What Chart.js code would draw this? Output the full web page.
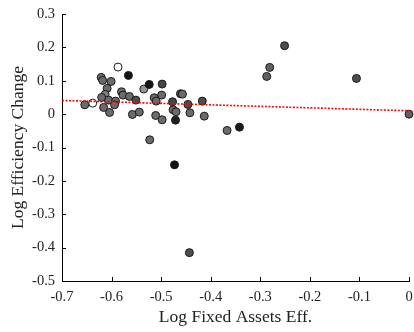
<!DOCTYPE html>
<html>
<head>
<meta charset="utf-8">
<script src="https://cdn.jsdelivr.net/npm/chart.js@4/dist/chart.umd.min.js"></script>
<style>
html,body{margin:0;padding:0;background:#fff;}
#wrap{width:414px;height:332px;}
</style>
</head>
<body>
<div id="wrap"><canvas id="c" width="414" height="332"></canvas></div>
<script>
// Data
const fixedAssetsEff = [
  -0.654,-0.638,-0.587,-0.566,-0.621,-0.618,-0.601,-0.609,-0.613,-0.620,
  -0.606,-0.592,-0.594,-0.616,-0.604,-0.580,-0.577,-0.564,-0.551,-0.558,
  -0.544,-0.535,-0.524,-0.498,-0.499,-0.514,-0.510,-0.511,-0.498,-0.523,
  -0.477,-0.476,-0.470,-0.471,-0.461,-0.457,-0.446,-0.442,-0.417,-0.413,
  -0.367,-0.342,-0.473,-0.443,-0.251,-0.281,-0.287,-0.106,0.000
];
const efficiencyChange = [
  0.028,0.033,0.141,0.116,0.110,0.101,0.098,0.077,0.059,0.050,
  0.042,0.039,0.028,0.020,0.005,0.067,0.057,0.053,0.042,-0.001,
  0.006,0.075,0.089,0.090,0.057,0.049,0.039,-0.004,-0.017,-0.077,
  0.037,0.013,0.007,-0.018,0.061,0.060,0.029,0.004,0.039,-0.006,
  -0.049,-0.039,-0.152,-0.415,0.205,0.140,0.113,0.107,0.000
];
// grey level of each marker (0 = black, 1 = white)
const markerLevel = [
  0.42,1.00,1.00,0.08,0.42,0.42,0.42,0.42,0.50,0.42,
  0.42,0.42,0.42,0.42,0.42,0.42,0.42,0.42,0.30,0.42,
  0.42,0.58,0.08,0.28,0.42,0.42,0.42,0.42,0.42,0.42,
  0.28,0.42,0.42,0.12,0.28,0.42,0.30,0.42,0.30,0.42,
  0.42,0.10,0.08,0.30,0.30,0.38,0.38,0.30,0.38
];
const trendX = [-0.7, 0];
const trendY = [0.041, 0.010];
const xTicks = [-0.7,-0.6,-0.5,-0.4,-0.3,-0.2,-0.1,0];
const yTicks = [0.3,0.2,0.1,0,-0.1,-0.2,-0.3,-0.4,-0.5];

const fmt = v => { const r = Math.round(v*10)/10; return r === 0 ? '0' : String(r); };
const grey = l => { const g = Math.round(255*l); return `rgb(${g},${g},${g})`; };

const scatterPts = fixedAssetsEff.map((x,i)=>({x, y: efficiencyChange[i]}));
const trendPts = trendX.map((x,i)=>({x, y: trendY[i]}));

const inwardTicks = {
  id:'inwardTicks',
  afterDraw(chart){
    const {ctx, chartArea, scales} = chart;
    ctx.save();
    ctx.strokeStyle = '#000';
    ctx.lineWidth = 1;
    ctx.beginPath();
    xTicks.forEach(v=>{
      const px = Math.round(scales.x.getPixelForValue(v)) + 0.5;
      ctx.moveTo(px, chartArea.bottom);
      ctx.lineTo(px, chartArea.bottom - 4);
    });
    yTicks.forEach(v=>{
      const py = Math.round(scales.y.getPixelForValue(v)) + 0.5;
      ctx.moveTo(chartArea.left, py);
      ctx.lineTo(chartArea.left + 4, py);
    });
    ctx.stroke();
    ctx.restore();
  }
};

const serif = '"Liberation Serif", "Times New Roman", serif';

new Chart(document.getElementById('c'), {
  type: 'scatter',
  data: {
    datasets: [
      {
        type: 'line',
        data: trendPts,
        borderColor: '#ff0000',
        borderWidth: 1.6,
        borderDash: [2, 1.5],
        pointRadius: 0,
        fill: false,
        order: 0
      },
      {
        data: scatterPts,
        backgroundColor: markerLevel.map(grey),
        borderColor: '#1a1a1a',
        borderWidth: 1,
        pointRadius: 4,
        pointHoverRadius: 4,
        order: 1
      }
    ]
  },
  options: {
    responsive: false,
    animation: false,
    events: [],
    layout: { padding: { left: 0, right: 5, top: 14, bottom: 0 } },
    plugins: { legend: { display: false }, tooltip: { enabled: false } },
    clip: false,
    scales: {
      x: {
        type: 'linear',
        min: -0.7, max: 0,
        afterFit(s){ s.height = 51; s.paddingLeft = 0; s.paddingRight = 0; },
        afterBuildTicks(s){ s.ticks = xTicks.map(v=>({value:v})); },
        grid: { display: false, drawTicks: false },
        border: { display: true, color: '#000', width: 1 },
        ticks: { color: '#222', font: { family: serif, size: 14.5 }, padding: 7, callback: fmt, maxRotation: 0, autoSkip: false },
        title: { display: true, text: 'Log Fixed Assets Eff.', color: '#222', font: { family: serif, size: 17.5 }, padding: { top: 1, bottom: 4 } }
      },
      y: {
        type: 'linear',
        min: -0.5, max: 0.3,
        afterFit(s){ s.width = 62; s.paddingTop = 0; s.paddingBottom = 0; },
        afterBuildTicks(s){ s.ticks = yTicks.map(v=>({value:v})); },
        grid: { display: false, drawTicks: false },
        border: { display: true, color: '#000', width: 1 },
        ticks: { color: '#222', font: { family: serif, size: 14.5 }, padding: 7, callback: fmt, autoSkip: false },
        title: { display: true, text: 'Log Efficiency Change', color: '#222', font: { family: serif, size: 17.5 }, padding: { top: 8, bottom: 0 } }
      }
    }
  },
  plugins: [inwardTicks]
});
</script>
</body>
</html>
